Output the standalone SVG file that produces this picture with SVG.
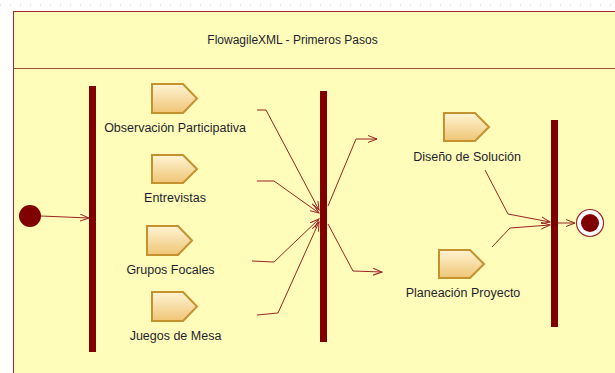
<svg xmlns="http://www.w3.org/2000/svg" width="615" height="373" viewBox="0 0 615 373">
<style>
.lbl{font-family:"Liberation Sans",Arial,sans-serif;font-size:12.5px;fill:#1e1e30;text-anchor:middle}
.ttl{font-family:"Liberation Sans",Arial,sans-serif;font-size:12px;fill:#1e1e30;text-anchor:middle}
.act{fill:url(#actGrad);stroke:#C4922E;stroke-width:2}
.bar{fill:#800000}
.con{fill:none;stroke:#9A2424;stroke-width:1}
</style>
<defs>
<linearGradient id="actGrad" x1="0" y1="0" x2="0" y2="1">
<stop offset="0" stop-color="#FFF4D4"/>
<stop offset="1" stop-color="#EFC575"/>
</linearGradient>
<marker id="arr" markerWidth="10" markerHeight="8" refX="9" refY="4" orient="auto" markerUnits="userSpaceOnUse">
<path d="M0,0.5 L9,4 L0,7.5" fill="none" stroke="#9A2424" stroke-width="1"/>
</marker>
</defs>
<rect width="615" height="373" fill="#ffffff"/>
<line x1="0" y1="5" x2="615" y2="5" stroke="#c8c8c8" stroke-width="1" stroke-dasharray="1 9"/>
<g id="frame">
<rect x="13.5" y="11.5" width="640" height="400" fill="#FFFDB9" stroke="#A02828" stroke-width="1"/>
<line x1="13.5" y1="68.5" x2="615" y2="68.5" stroke="#A0503A" stroke-width="1"/>
<text class="ttl" x="292.5" y="44">FlowagileXML - Primeros Pasos</text>
</g>
<g id="connectors">
<polyline class="con" points="41,216 89,218" marker-end="url(#arr)"/>
<polyline class="con" points="257,110 266,110 319,210" marker-end="url(#arr)"/>
<polyline class="con" points="257,181 274,181 319,213" marker-end="url(#arr)"/>
<polyline class="con" points="252,261 274,262 319,219" marker-end="url(#arr)"/>
<polyline class="con" points="257,315 278,313 319,222" marker-end="url(#arr)"/>
<polyline class="con" points="328,206 356,139 377,139" marker-end="url(#arr)"/>
<polyline class="con" points="328,224 353,271 382,272" marker-end="url(#arr)"/>
<polyline class="con" points="485,170 508,214 550,222" marker-end="url(#arr)"/>
<polyline class="con" points="492,247 510,228 550,225" marker-end="url(#arr)"/>
<polyline class="con" points="558,223 575,223" marker-end="url(#arr)"/>
</g>
<g id="initial"><circle cx="30" cy="216" r="11" fill="#800000"/></g>
<g id="fork1"><rect class="bar" x="89" y="86" width="7" height="266"/></g>
<g id="join1"><rect class="bar" x="320" y="91" width="7" height="251"/></g>
<g id="join2"><rect class="bar" x="551" y="120" width="7" height="207"/></g>
<g id="final">
<circle cx="590" cy="223" r="13.5" fill="#ffffff" stroke="#A02828" stroke-width="1.2"/>
<circle cx="590" cy="223" r="9" fill="#800000"/>
</g>
<g id="observacion">
<path class="act" d="M152,84 H183 L197,98.5 L183,113 H152 Z"/>
<text class="lbl" x="175" y="132">Observación Participativa</text>
</g>
<g id="entrevistas">
<path class="act" d="M152,155 H183 L197,169 L183,183 H152 Z"/>
<text class="lbl" x="175" y="202">Entrevistas</text>
</g>
<g id="grupos">
<path class="act" d="M147,226 H178 L192,240.5 L178,255 H147 Z"/>
<text class="lbl" x="170.5" y="274">Grupos Focales</text>
</g>
<g id="juegos">
<path class="act" d="M152,292 H183 L197,306.5 L183,321 H152 Z"/>
<text class="lbl" x="175.5" y="340">Juegos de Mesa</text>
</g>
<g id="diseno">
<path class="act" d="M444,113 H475 L489,127 L475,141 H444 Z"/>
<text class="lbl" x="467" y="161">Diseño de Solución</text>
</g>
<g id="planeacion">
<path class="act" d="M439,250 H470 L484,264 L470,278 H439 Z"/>
<text class="lbl" x="463" y="297">Planeación Proyecto</text>
</g>
</svg>
